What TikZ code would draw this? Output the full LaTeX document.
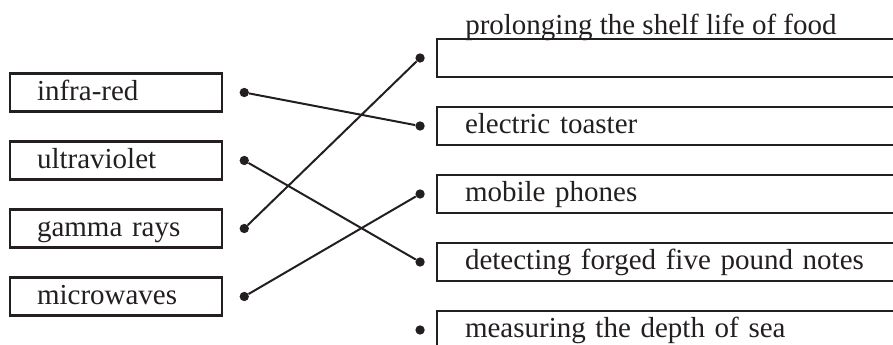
\documentclass[tikz,border=0pt]{standalone}
\usepackage{fontspec}
\setmainfont{Liberation Serif}
\usepackage{xcolor}
\usepackage{tikz}
\usetikzlibrary{shapes,arrows,positioning}

\definecolor{ink}{HTML}{231F20}

\begin{document}
\begin{tikzpicture}[
    x=0.75pt, y=-0.75pt,
    node distance=22.5pt,
    every node/.style={text=ink, font=\fontsize{21.75}{26}\selectfont},
    lbox/.style={draw=ink, line width=1.9pt, outer sep=0pt, rectangle, minimum width=159pt, minimum height=28.5pt, inner xsep=20.25pt, text width=118.5pt, align=left, text height=16pt, text depth=4.6pt},
    rbox/.style={draw=ink, line width=1.9pt, outer sep=0pt, rectangle, minimum width=375pt, minimum height=28.5pt, inner xsep=21pt, text width=333pt, align=left, text height=16pt, text depth=4.6pt},
    dot/.style={circle, fill=ink, inner sep=0pt, minimum size=7pt},
    link/.style={draw=ink, line width=1.5pt}
]
    \useasboundingbox (0,0) rectangle (893,345);
    \clip (0,0) rectangle (893,345);

    % radiation types
    \node[lbox] (ir) at (116,92.5) {infra-red};
    \node[lbox, below=of ir] (uv) {ultraviolet};
    \node[lbox, below=of uv] (gr) {gamma rays};
    \node[lbox, below=of gr] (mw) {microwaves};

    % uses
    \node[rbox, anchor=west] (shelf) at (437,58) {};
    \node[anchor=base west, inner sep=0pt] (shelftxt) at ([xshift=21pt, yshift=3pt]shelf.north west) {prolonging the shelf life of food};
    \node[rbox, below=of shelf] (toast) {electric toaster};
    \node[rbox, below=of toast] (mob) {mobile phones};
    \node[rbox, below=of mob] (det) {detecting forged five pound notes};
    \node[rbox, below=of det] (sea) {measuring the depth of sea};

    % dots
    \node[dot, right=13pt of ir] (ird) {};
    \node[dot, right=13pt of uv] (uvd) {};
    \node[dot, right=13pt of gr] (grd) {};
    \node[dot, right=13pt of mw] (mwd) {};
    \node[dot, left=9pt of shelf] (shelfd) {};
    \node[dot, left=9pt of toast] (toastd) {};
    \node[dot, left=9pt of mob] (mobd) {};
    \node[dot, left=9pt of det] (detd) {};
    \node[dot, left=9pt of sea] (sead) {};

    \draw[link] (ird) -- (toastd);
    \draw[link] (uvd) -- (detd);
    \draw[link] (grd) -- (shelfd);
    \draw[link] (mwd) -- (mobd);
\end{tikzpicture}
\end{document}
